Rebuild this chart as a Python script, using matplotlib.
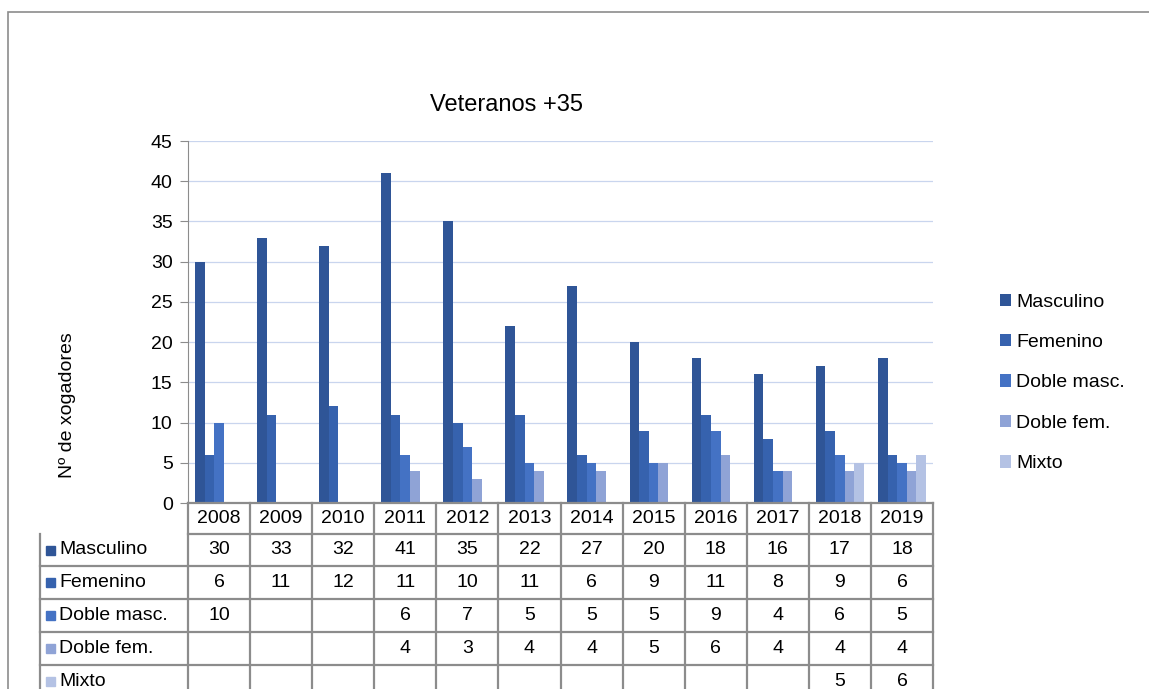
import numpy as np
import matplotlib.pyplot as plt
from matplotlib.patches import Rectangle

plt.rcParams['font.family'] = ['Liberation Sans', 'DejaVu Sans']

# datos
anos = ['2008', '2009', '2010', '2011', '2012', '2013', '2014', '2015', '2016', '2017', '2018', '2019']
series = ['Masculino', 'Femenino', 'Doble masc.', 'Doble fem.', 'Mixto']
masculino = [30, 33, 32, 41, 35, 22, 27, 20, 18, 16, 17, 18]
femenino = [6, 11, 12, 11, 10, 11, 6, 9, 11, 8, 9, 6]
doble_masc = [10, None, None, 6, 7, 5, 5, 5, 9, 4, 6, 5]
doble_fem = [None, None, None, 4, 3, 4, 4, 5, 6, 4, 4, 4]
mixto = [None, None, None, None, None, None, None, None, None, None, 5, 6]
valores = [masculino, femenino, doble_masc, doble_fem, mixto]
cores = ['#2F5597', '#3662AE', '#4472C4', '#8FA3D6', '#B4C2E4']

W, H = 1149, 689
fs = 14
fig = plt.figure(figsize=(W / 100, H / 100), dpi=100)


def fx(px):
    return px / W


def fy(py):
    return 1 - py / H


# marco do grafico
fig.patches.append(Rectangle((fx(8), fy(1200)), 2, fy(12) - fy(1200), transform=fig.transFigure,
                             fill=False, edgecolor='#8C8C8C', lw=1.2))

x0, x1, y0, y1 = 188, 933, 503, 141
ax = fig.add_axes([fx(x0), fy(y0), fx(x1) - fx(x0), fy(y1) - fy(y0)])
n = len(anos)
x = np.arange(n)
bw = 0.155
for i, (nome, vals, c) in enumerate(zip(series, valores, cores)):
    xs = [x[j] + (i - 2) * bw for j in range(n) if vals[j] is not None]
    hs = [v for v in vals if v is not None]
    ax.bar(xs, hs, width=bw, color=c, label=nome, zorder=2)

ax.set_xlim(-0.5, n - 0.5)
ax.set_ylim(0, 45)
ax.set_yticks(range(0, 46, 5))
ax.set_xticks([])
ax.tick_params(axis='y', labelsize=fs, length=6, color='#8C8C8C', pad=5)
ax.grid(axis='y', color='#C9D5EE', lw=0.9, zorder=0)
for s in ['top', 'right', 'bottom']:
    ax.spines[s].set_visible(False)
ax.spines['left'].set_color('#8C8C8C')
fig.text(fx(68), fy(405), 'Nº de xogadores', rotation=90, ha='center', va='center', fontsize=fs)
fig.text(fx(507), fy(105), 'Veteranos +35', ha='center', va='center', fontsize=17)

leg = ax.legend(loc='upper left', bbox_to_anchor=(fx(990), fy(284)), bbox_transform=fig.transFigure,
                frameon=False, fontsize=fs, handlelength=0.6, handleheight=0.6,
                handletextpad=0.25, labelspacing=1.2, borderpad=0)

# taboa de datos
lc = '#8C8C8C'
cw = (x1 - x0) / n
lin = [503, 534, 566, 599, 632, 665, 698]
for k in range(len(lin) - 1):
    xl = x0 if k == 0 else 40
    fig.add_artist(plt.Line2D([fx(xl), fx(x1)], [fy(lin[k + 1])] * 2, color=lc, lw=1.6))
fig.add_artist(plt.Line2D([fx(x0), fx(x1)], [fy(lin[0])] * 2, color=lc, lw=1.6))
for j in range(n + 1):
    xv = x0 + j * cw
    fig.add_artist(plt.Line2D([fx(xv)] * 2, [fy(lin[0]), fy(lin[-1])], color=lc, lw=1.6))
fig.add_artist(plt.Line2D([fx(40)] * 2, [fy(lin[1]), fy(lin[-1])], color=lc, lw=1.6))

for j, a in enumerate(anos):
    fig.text(fx(x0 + (j + 0.5) * cw), fy((lin[0] + lin[1]) / 2), a, ha='center', va='center', fontsize=fs)
for i, (nome, vals, c) in enumerate(zip(series, valores, cores)):
    yc = fy((lin[i + 1] + lin[i + 2]) / 2)
    fig.patches.append(Rectangle((fx(46), yc - 4.5 / H), 9 / W, 9 / H, transform=fig.transFigure,
                                 color=c))
    fig.text(fx(59), yc, nome, ha='left', va='center', fontsize=fs)
    for j, v in enumerate(vals):
        if v is not None:
            fig.text(fx(x0 + (j + 0.5) * cw), yc, str(v), ha='center', va='center', fontsize=fs)

fig.savefig('out.png', dpi=100)
